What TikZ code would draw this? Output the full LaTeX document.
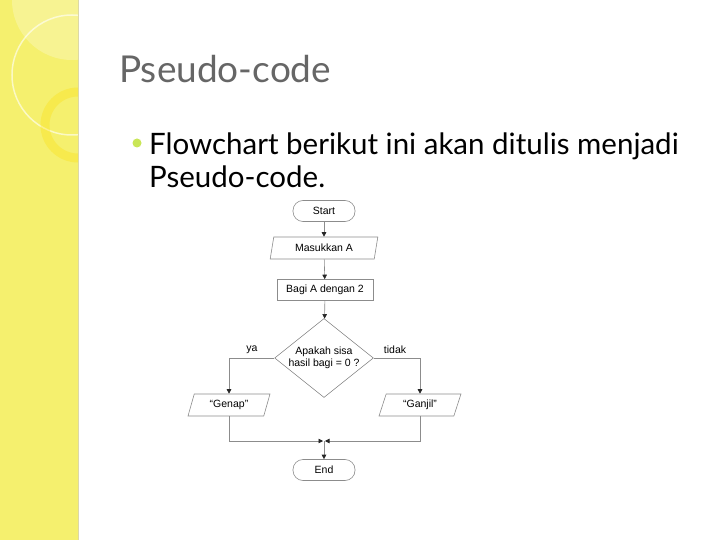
\documentclass[tikz,border=0pt]{standalone}
\usepackage{fontspec}
\setmainfont{Liberation Sans}
\newfontfamily\gill{Lato}
\usetikzlibrary{shapes.geometric,arrows.meta}
\definecolor{side}{RGB}{245,240,110}
\begin{document}
\begin{tikzpicture}[x=1pt,y=-1pt,
  fc/.style={draw=black!45,line width=0.6pt,font=\fontsize{10.5}{12.5}\selectfont,inner sep=0pt},
  term/.style={fc,rounded corners=10pt,minimum width=62pt,minimum height=21pt},
  para/.style={fc,trapezium,trapezium left angle=70,trapezium right angle=110,minimum width=80pt,minimum height=22pt,trapezium stretches=true},
  proc/.style={fc,minimum width=96pt,minimum height=21pt},
  dec/.style={fc,diamond,aspect=1.25,minimum width=96pt,minimum height=78pt,align=center},
  ln/.style={draw=black!45,line width=0.6pt},
  arr/.style={ln,-{Triangle[length=4.5pt,width=4.5pt,color=black!85]}}]
\useasboundingbox (0,0) rectangle (720,540);
\fill[white] (0,0) rectangle (720,540);
\fill[side] (0,0) rectangle (78,540);
\begin{scope}
\clip (0,0) rectangle (78,540);
\draw[white,opacity=0.6,line width=1.5pt] (72,75) circle (60);
\fill[white,opacity=0.25] (72,0) circle (60);
\draw[yellow!80!orange,opacity=0.3,line width=9pt] (78,125) circle (33);
\end{scope}
\draw[yellow!60!black!40,line width=1pt] (78.5,0) -- (78.5,540);
\node[anchor=base west,text=black!60,font=\gill\fontsize{37}{40}\selectfont,inner sep=0] (title) at (119,83) {Pseudo-code};
\fill[yellow!70!green!70!white] (137,143) circle (4.5);
\node[anchor=base west,font=\gill\fontsize{29.5}{33}\selectfont,inner sep=0] (b1) at (149,155) {Flowchart berikut ini akan ditulis menjadi};
\node[anchor=base west,font=\gill\fontsize{29.5}{33}\selectfont,inner sep=0] (b2) at (149,188) {Pseudo-code.};
\node[term] (start) at (324,211) {Start};
\node[para,minimum width=108pt,trapezium left angle=75,trapezium right angle=105] (in) at (324,248) {Masukkan A};
\node[proc] (bagi) at (325,290) {Bagi A dengan 2};
\node[dec] (d) at (324,358) {Apakah sisa\\hasil bagi = 0 ?};
\node[para,minimum width=82pt] (gen) at (229,405) {“Genap”};
\node[para,minimum width=82pt] (gan) at (420,405) {“Ganjil”};
\node[term] (end) at (324,470) {End};
\coordinate (m) at (324,441);
\node[font=\fontsize{10.5}{12}\selectfont] (ya) at (252,350) {ya};
\node[font=\fontsize{10.5}{12}\selectfont] (td) at (395,350) {tidak};
\draw[arr] (start) -- (in);
\draw[arr] (in) -- (bagi);
\draw[arr] (bagi) -- (d);
\draw[arr] (d.west) -| (gen.north);
\draw[arr] (d.east) -| (gan.north);
\draw[arr] (gen.south) |- ([xshift=-1pt]m);
\draw[arr] (gan.south) |- ([xshift=1pt]m);
\draw[arr] (m) -- (end);
\end{tikzpicture}
\end{document}
